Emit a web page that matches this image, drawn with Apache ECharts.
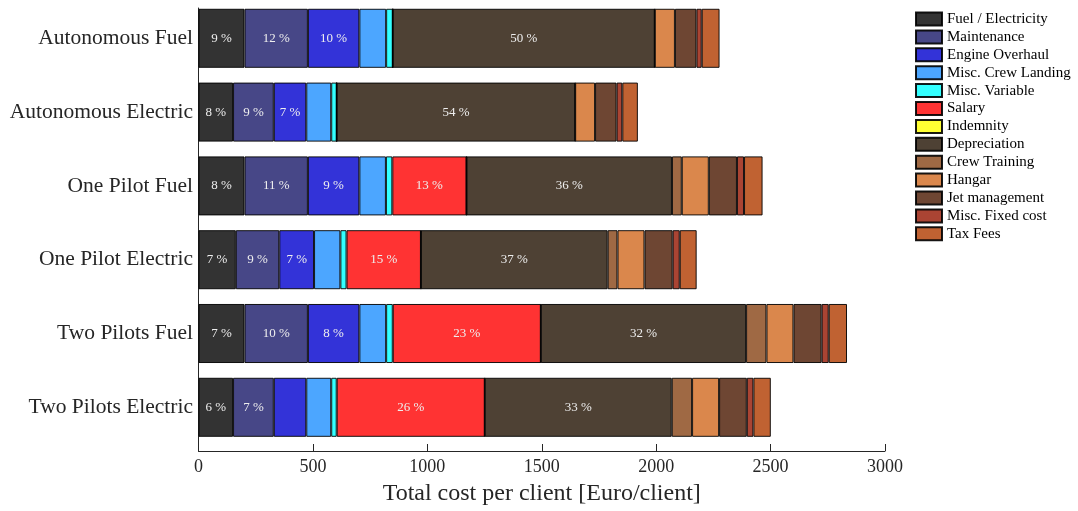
<!DOCTYPE html>
<html>
<head>
<meta charset="utf-8">
<script src="https://cdn.jsdelivr.net/npm/echarts@6/dist/echarts.min.js"></script>
<style>
html,body{margin:0;padding:0;background:#fff;}
#chart{width:1078px;height:511px;}
</style>
</head>
<body>
<div id="chart"></div>
<script>
const categories = ['Autonomous Fuel','Autonomous Electric','One Pilot Fuel','One Pilot Electric','Two Pilots Fuel','Two Pilots Electric'];
const seriesNames = ['Fuel / Electricity','Maintenance','Engine Overhaul','Misc. Crew Landing','Misc. Variable','Salary','Indemnity','Depreciation','Crew Training','Hangar','Jet management','Misc. Fixed cost','Tax Fees'];
const colors = ['#333333','#474787','#3333d8','#4ca6ff','#33ffff','#ff3333','#ffff33','#4e4134','#9f6944','#da874c','#6e4633','#aa4433','#c06232'];

const fuel          = [201, 151, 201, 163, 201, 151];
const maintenance   = [277, 178, 277, 190, 277, 178];
const engine        = [225, 142, 225, 152, 225, 142];
const crewLanding   = [117, 109, 116, 115, 117, 109];
const miscVariable  = [29, 24, 28, 27, 29, 24];
const salary        = [0, 0, 324, 325, 647, 647];
const indemnity     = [0, 0, 0, 0, 0, 0];
const depreciation  = [1145, 1042, 898, 816, 897, 817];
const crewTraining  = [0, 0, 43, 43, 89, 89];
const hangar        = [88, 87, 118, 118, 118, 118];
const jetManagement = [94, 94, 123, 123, 123, 121];
const miscFixed     = [23, 25, 31, 31, 31, 29];
const taxFees       = [78, 68, 81, 74, 80, 76];

const xTicks = [0, 500, 1000, 1500, 2000, 2500, 3000];

const seriesData = [fuel, maintenance, engine, crewLanding, miscVariable, salary, indemnity, depreciation, crewTraining, hangar, jetManagement, miscFixed, taxFees];
const totals = categories.map((c, i) => seriesData.reduce((s, arr) => s + arr[i], 0));

const FONT = "'Liberation Serif', 'DejaVu Serif', serif";

const chart = echarts.init(document.getElementById('chart'), null, {renderer: 'canvas'});

const series = seriesNames.map((name, k) => ({
  name: name,
  type: 'bar',
  stack: 'total',
  xAxisIndex: 0,
  yAxisIndex: 0,
  barWidth: '80%',
  data: seriesData[k],
  itemStyle: {color: colors[k], borderColor: 'rgba(0,0,0,0.9)', borderWidth: 1},
  label: {
    show: true,
    position: 'inside',
    color: '#eeeeee',
    fontFamily: FONT,
    fontSize: 13,
    formatter: (p) => {
      const pct = p.value / totals[p.dataIndex] * 100;
      return pct >= 6 ? Math.round(pct) + ' %' : '';
    }
  },
  emphasis: {disabled: true},
  animation: false
}));

chart.setOption({
  animation: false,
  grid: [
    {left: 198.5, right: 193, top: 1.4, height: 442.8},
    {left: 198.5, right: 193, top: 8, bottom: 59}
  ],
  legend: {
    orient: 'vertical',
    left: 915,
    top: 11.5,
    padding: 0,
    itemWidth: 26,
    itemHeight: 13,
    itemGap: 2.9,
    icon: 'rect',
    data: seriesNames,
    textStyle: {fontFamily: FONT, fontSize: 15, lineHeight: 13, color: '#000'},
    selectedMode: false
  },
  xAxis: [
    {gridIndex: 0, type: 'value', min: 0, max: 3000, interval: 500, show: false},
    {
      gridIndex: 1, type: 'value', min: xTicks[0], max: xTicks[xTicks.length - 1], interval: 500,
      axisLine: {show: true, onZero: false, lineStyle: {color: '#262626', width: 1}},
      axisTick: {show: true, inside: true, length: 7, lineStyle: {color: '#262626'}},
      axisLabel: {show: true, margin: 7, fontFamily: FONT, fontSize: 18, color: '#262626', formatter: (v) => String(v)},
      splitLine: {show: false},
      name: 'Total cost per client [Euro/client]',
      nameLocation: 'middle',
      nameGap: 31,
      nameTextStyle: {fontFamily: FONT, fontSize: 24, color: '#262626'}
    }
  ],
  yAxis: [
    {
      gridIndex: 0, type: 'category', inverse: true, data: categories,
      axisLine: {show: false}, axisTick: {show: false},
      axisLabel: {margin: 5.5, fontFamily: FONT, fontSize: 21.5, color: '#262626'}
    },
    {
      gridIndex: 1, type: 'value', min: 0, max: 1,
      axisLine: {show: true, onZero: false, lineStyle: {color: '#262626', width: 1}},
      axisTick: {show: false}, axisLabel: {show: false}, splitLine: {show: false}
    }
  ],
  series: series
});
</script>
</body>
</html>
